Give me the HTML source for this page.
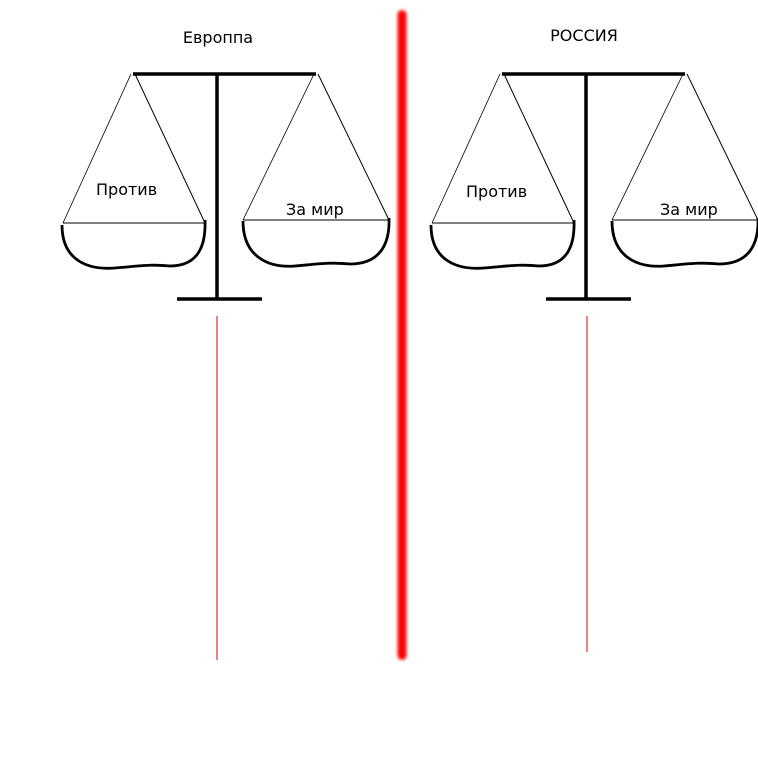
<!DOCTYPE html>
<html><head><meta charset="utf-8"><style>
html,body{margin:0;padding:0;background:#fff;}
svg{display:block;}
text{font-family:"DejaVu Sans","Liberation Sans",sans-serif;font-size:16px;fill:#000;}
</style></head><body>
<svg width="758" height="758" viewBox="0 0 758 758" xmlns="http://www.w3.org/2000/svg">
<defs><filter id="b" filterUnits="userSpaceOnUse" x="380" y="0" width="44" height="680"><feGaussianBlur stdDeviation="1.5"/></filter></defs>
<rect width="758" height="758" fill="#fff"/>
<rect x="397.5" y="10" width="9" height="650" rx="4.5" fill="#ff0000" filter="url(#b)"/>
<line x1="217" y1="316" x2="217" y2="660" stroke="#e00000" stroke-width="1"/>
<line x1="587" y1="316" x2="587" y2="652" stroke="#e00000" stroke-width="1"/>
<g id="s" fill="none" stroke="#000">
<line x1="133" y1="74" x2="316" y2="74" stroke-width="3.5"/>
<line x1="217" y1="74" x2="217" y2="299" stroke-width="3.5"/>
<line x1="177" y1="299" x2="262" y2="299" stroke-width="3.5"/>
<line x1="131" y1="74" x2="63" y2="223" stroke-width="0.8"/>
<line x1="135" y1="74" x2="205" y2="223" stroke-width="1"/>
<line x1="63" y1="223" x2="205" y2="223" stroke-width="1"/>
<path d="M62 225 C62 262 90 270 115 268 C140 266 150 264 170 266 C198 266 206 246 205 220" stroke-width="2.8"/>
<line x1="314" y1="74" x2="243" y2="220" stroke-width="0.8"/>
<line x1="318" y1="74" x2="389" y2="220" stroke-width="1"/>
<line x1="243" y1="220" x2="389" y2="220" stroke-width="1"/>
<path d="M243 221 C243 258 270 268 295 266 C318 264 330 262 350 264 C380 264 390 244 389 218" stroke-width="2.8"/>
</g>
<use href="#s" transform="translate(369,0)"/>
<text x="218" y="43" text-anchor="middle">Европпа</text>
<text x="584" y="41" text-anchor="middle">РОССИЯ</text>
<text x="96" y="195">Против</text>
<text x="286" y="215">За мир</text>
<text x="466" y="197">Против</text>
<text x="660" y="215">За мир</text>
</svg>
</body></html>
